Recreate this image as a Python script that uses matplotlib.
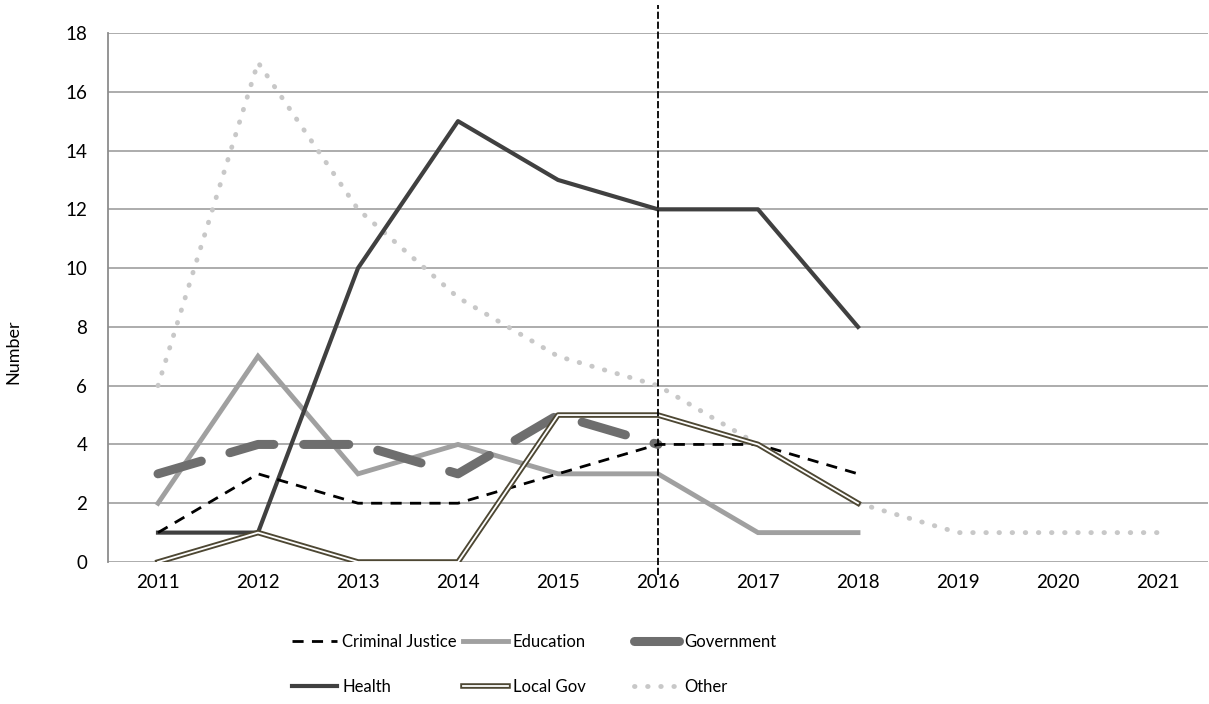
import matplotlib
matplotlib.use("Agg")
import matplotlib.pyplot as plt
import matplotlib.patheffects as pe
import numpy as np

plt.rcParams['font.family'] = ['Lato', 'DejaVu Sans']

years = ["2011", "2012", "2013", "2014", "2015", "2016", "2017", "2018", "2019", "2020", "2021"]
criminal_justice = [1, 3, 2, 2, 3, 4, 4, 3]
education = [2, 7, 3, 4, 3, 3, 1, 1]
government = [3, 4, 4, 3, 5, 4]
health = [1, 1, 10, 15, 13, 12, 12, 8]
local_gov = [0, 1, 0, 0, 5, 5, 4, 2]
other = [6, 17, 12, 9, 7, 6, 4, 2, 1, 1, 1]
marker_year = "2016"

fig = plt.figure(figsize=(12.09, 7.04), dpi=100)
ax = fig.add_axes([108 / 1209, 1 - 562 / 704, 1100 / 1209, 529 / 704])

x = np.arange(len(years))

l_other, = ax.plot(x[:len(other)], other, color="#C8C8C8", lw=3.5,
                   linestyle=(0, (0.1, 2.6)), dash_capstyle="round", label="Other", zorder=3)
l_edu, = ax.plot(x[:len(education)], education, color="#A0A0A0", lw=3.5,
                 solid_joinstyle="miter", label="Education", zorder=3)
l_gov, = ax.plot(x[:len(government)], government, color="#6E6E6E", lw=6.5,
                 linestyle=(0, (5, 3.3)), dash_capstyle="round", label="Government", zorder=4)
l_cj, = ax.plot(x[:len(criminal_justice)], criminal_justice, color="#000000", lw=2,
                linestyle=(0, (4, 3)), label="Criminal Justice", zorder=5)
l_health, = ax.plot(x[:len(health)], health, color="#404040", lw=3,
                    label="Health", zorder=4)
l_lg, = ax.plot(x[:len(local_gov)], local_gov, color="white", lw=1.3,
                label="Local Gov", zorder=6,
                path_effects=[pe.Stroke(linewidth=4, foreground="#4D4733"), pe.Normal()])

ax.axvline(years.index(marker_year), ymin=-0.025, ymax=1.053, color="black", lw=1.3,
           linestyle=(0, (4, 1.5)), clip_on=False, zorder=7)

ax.set_xlim(-0.5, len(years) - 0.5)
ax.set_ylim(0, 18)
ax.set_yticks(range(0, 19, 2))
ax.set_xticks(x)
ax.set_xticklabels(years)
ax.yaxis.grid(True, color="#A6A6A6", lw=1.3)
ax.set_axisbelow(True)
for s in ["top", "right", "bottom"]:
    ax.spines[s].set_visible(False)
ax.spines["left"].set_color("#8C8C8C")
ax.spines["left"].set_linewidth(1.3)
ax.tick_params(axis="both", length=0, labelsize=13.5, colors="black")
ax.tick_params(axis="x", pad=9)
ax.tick_params(axis="y", pad=15)
ax.set_ylabel("Number", fontsize=13)
ax.yaxis.set_label_coords(21 / 1209, 0.5, transform=fig.transFigure)

# three legend columns placed like the original
cols = [([l_cj, l_health], 292), ([l_edu, l_lg], 463), ([l_gov, l_other], 634)]
for handles, xpix in cols:
    leg = fig.legend(handles=handles, loc="upper left",
                     bbox_to_anchor=(xpix / 1209, 1 - 634 / 704),
                     frameon=False, fontsize=12, handlelength=2.7, handletextpad=0.3,
                     labelspacing=1.75, borderpad=0, borderaxespad=0)

fig.savefig("out.png", dpi=100)
